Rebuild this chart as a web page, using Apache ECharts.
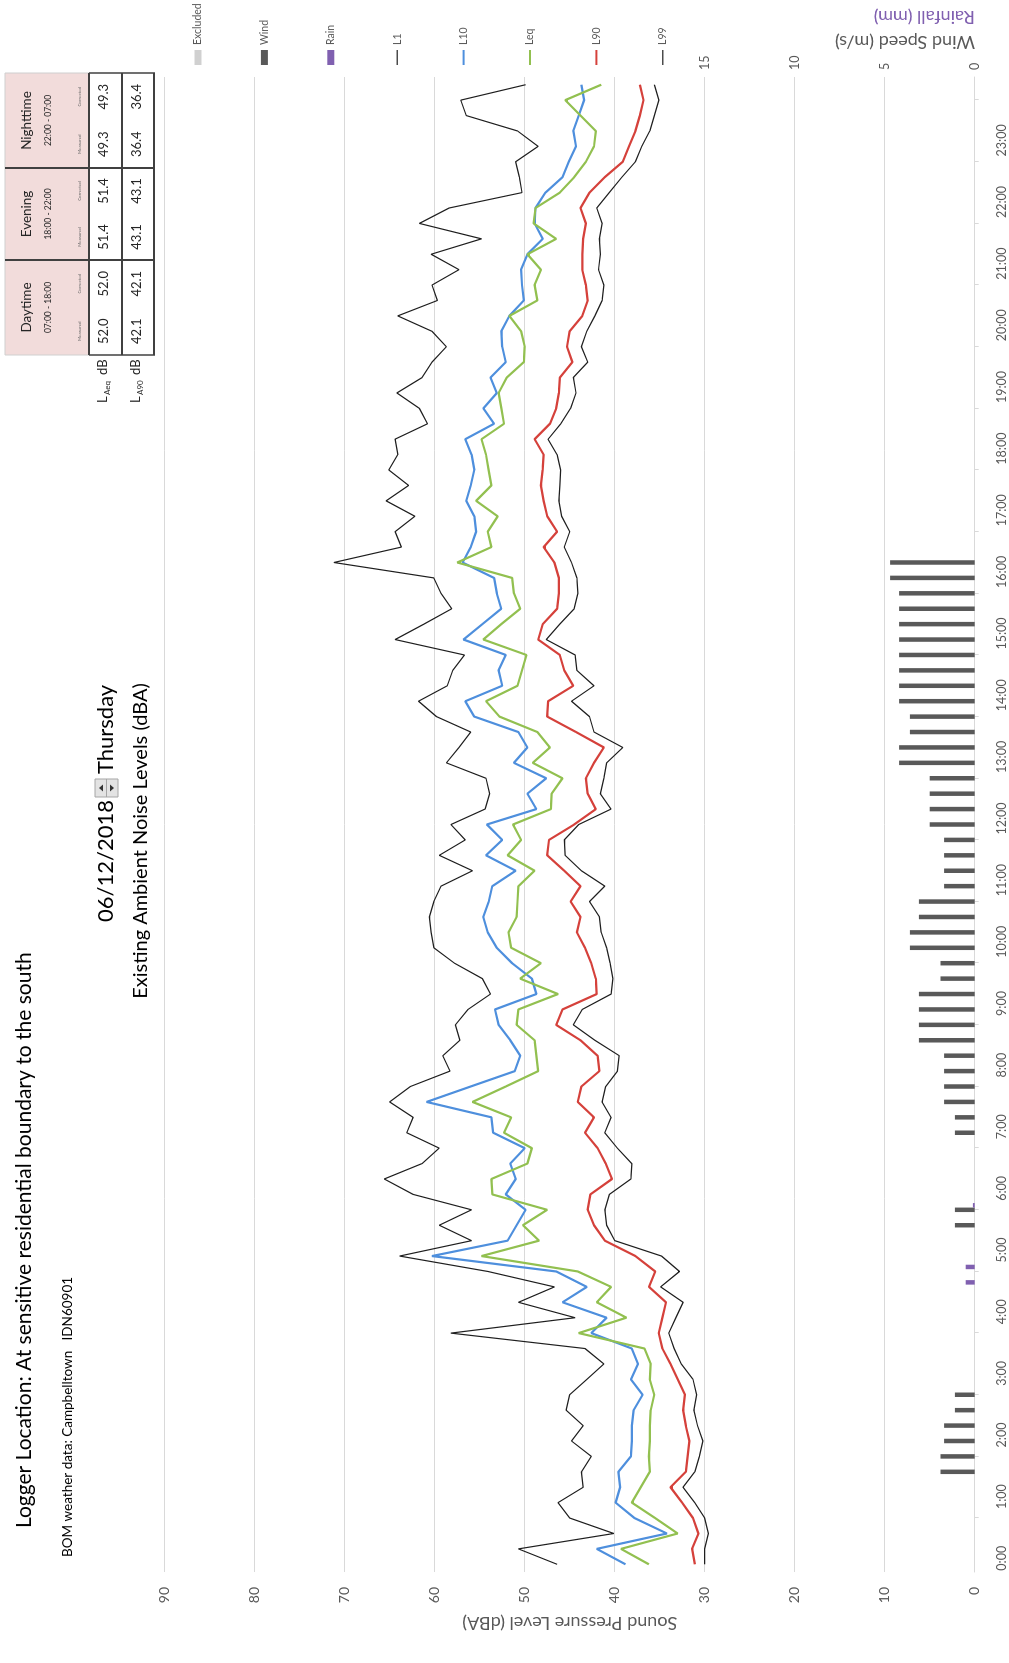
<!DOCTYPE html>
<html><head><meta charset="utf-8">
<script src="https://cdn.jsdelivr.net/npm/echarts@6/dist/echarts.min.js"></script>
<style>
html,body{margin:0;padding:0;overflow:hidden;background:#fff;width:1009px;height:1663px;}
#chart{position:absolute;left:0;top:0;width:1663px;height:1009px;transform-origin:0 0;transform:translateY(1663px) rotate(-90deg);}
</style></head><body><div id="chart"></div>
<script>
// 15-minute categories 0:00 ... 24:00
const times = [];
for (let i = 0; i < 97; i++) { const m = i * 15; times.push((Math.floor(m / 60) % 24) + ':' + String(m % 60).padStart(2, '0')); }

const L1 = [46.4,50.7,40.1,45.0,46.3,43.5,43.7,42.6,44.8,43.5,
 45.4,45.0,43.1,41.2,43.3,58.2,44.4,50.7,46.7,54.1,
 63.9,55.9,59.5,55.9,62.4,65.6,61.4,59.5,63.1,62.4,
 65.0,62.7,58.3,59.1,57.2,57.7,56.3,53.8,54.7,57.8,
 60.1,60.4,60.6,60.1,59.3,55.8,59.5,56.6,58.2,54.4,
 53.9,54.3,58.7,57.3,56.0,59.8,61.8,58.6,58.0,56.7,
 64.4,61.2,58.1,59.3,60.1,71.2,63.7,64.4,62.2,65.4,
 62.9,65.1,64.1,64.4,60.8,61.7,64.2,61.4,60.3,58.7,
 60.3,64.1,59.7,60.3,57.3,60.4,54.8,61.7,58.4,50.3,
 50.6,51.0,48.5,50.8,56.5,57.1,49.9];
const L10 = [38.8,42.0,34.2,37.8,39.9,39.4,39.6,38.2,38.1,38.1,
 37.9,36.9,38.2,37.4,38.1,42.6,40.9,45.8,43.1,46.5,
 60.3,51.9,50.9,49.9,52.1,51.0,51.6,50.0,53.5,53.7,
 60.9,56.0,51.1,50.5,51.6,52.9,53.3,48.7,49.2,51.4,
 53.1,54.1,54.6,54.0,53.6,51.0,54.3,52.5,54.2,48.7,
 49.7,47.6,51.2,49.7,50.7,55.6,56.6,52.5,52.9,52.1,
 56.8,54.7,52.6,53.1,53.4,56.9,56.0,55.4,55.6,56.5,
 56.0,55.6,55.9,56.6,53.4,54.6,53.1,53.8,52.1,52.5,
 52.6,51.7,50.1,50.3,50.4,49.7,48.0,48.9,48.8,47.7,
 45.8,45.1,44.3,44.6,44.0,43.4,43.7];
const Leq = [36.2,39.3,33.0,35.5,38.1,37.1,36.1,36.2,36.1,36.1,
 36.0,35.6,36.1,36.0,36.7,44.0,38.7,42.0,40.4,44.1,
 54.8,48.4,50.2,47.5,53.6,53.7,49.7,49.2,52.3,51.5,
 55.8,52.1,48.5,48.7,48.9,50.9,50.7,46.3,50.5,48.2,
 51.5,51.8,50.9,50.8,50.7,48.9,51.9,50.4,51.3,47.1,
 47.0,45.8,49.1,47.2,48.6,52.8,54.3,50.8,50.3,49.8,
 54.6,52.6,50.5,51.2,51.4,57.5,53.7,54.1,53.0,55.4,
 53.7,54.0,54.3,54.8,52.3,52.6,52.9,52.0,50.1,50.0,
 50.4,51.7,48.6,48.9,48.2,49.7,46.5,49.0,48.8,46.1,
 44.5,43.2,42.3,42.1,43.8,45.5,41.5];
const L90 = [31.1,31.4,30.7,31.3,32.5,33.8,32.1,31.9,31.7,32.1,
 32.4,32.2,33.0,33.8,34.7,35.1,34.7,34.3,36.2,35.5,
 37.7,41.1,42.3,43.0,42.7,40.3,41.0,41.9,43.3,42.3,
 44.1,43.7,41.7,41.9,43.8,46.5,45.8,42.0,42.1,42.6,
 43.3,44.2,43.8,44.9,43.8,45.6,47.5,47.3,44.5,42.1,
 43.0,43.2,42.3,41.2,44.3,47.5,47.4,44.6,45.6,46.1,
 48.5,48.0,46.4,46.2,46.2,46.7,47.9,46.4,47.5,47.9,
 48.2,48.0,47.9,48.9,47.2,46.5,46.2,46.1,44.7,45.3,
 45.0,43.6,43.0,43.2,43.6,43.6,43.5,43.2,43.8,42.8,
 41.1,39.1,38.4,37.7,37.2,36.8,37.2];
const L99 = [30.0,30.0,29.6,30.0,31.1,32.4,31.1,30.6,30.2,30.8,
 31.2,30.9,31.3,32.6,33.4,34.0,33.2,32.4,34.9,32.8,
 34.8,40.0,40.9,41.1,40.6,38.2,38.1,39.7,41.1,40.4,
 41.4,41.0,39.7,39.5,42.2,44.6,43.6,40.4,40.2,40.5,
 40.9,41.5,41.7,42.8,41.1,43.7,45.5,45.6,44.0,40.4,
 41.6,41.2,40.9,39.1,42.3,42.8,44.8,42.3,44.2,44.4,
 47.6,46.1,44.5,44.1,44.2,44.8,45.6,45.0,45.9,46.2,
 46.1,46.0,46.4,47.4,46.0,44.9,44.3,44.6,43.0,43.7,
 43.1,42.2,41.4,41.2,41.8,41.6,41.7,41.4,42.0,40.6,
 39.2,37.7,37.0,36.1,35.6,35.1,35.6];
const _ = null;
const wind = [_,_,_,_,_,_,1.9,1.9,1.7,1.7,
 1.1,1.1,_,_,_,_,_,_,_,_,
 _,_,1.1,1.1,_,_,_,_,1.1,1.1,
 1.7,1.7,1.7,1.7,3.1,3.1,3.1,3.1,1.9,1.9,
 3.6,3.6,3.1,3.1,1.7,1.7,1.7,1.7,2.5,2.5,
 2.5,2.5,4.2,4.2,3.6,3.6,4.2,4.2,4.2,4.2,
 4.2,4.2,4.2,4.2,4.7,4.7,_,_,_,_,
 _,_,_,_,_,_,_,_,_,_,
 _,_,_,_,_,_,_,_,_,_,
 _,_,_,_,_,_,_];
const rain = [_,_,_,_,_,_,_,_,_,_,
 _,_,_,_,_,_,_,_,0.5,0.5,
 _,_,_,0.1,_,_,_,_,_,_,
 _,_,_,_,_,_,_,_,_,_,
 _,_,_,_,_,_,_,_,_,_,
 _,_,_,_,_,_,_,_,_,_,
 _,_,_,_,_,_,_,_,_,_,
 _,_,_,_,_,_,_,_,_,_,
 _,_,_,_,_,_,_,_,_,_,
 _,_,_,_,_,_,_];
const excluded = times.map(() => null);

const periods = ['Daytime', 'Evening', 'Nighttime'];
const periodTimes = ['07:00 - 18:00', '18:00 - 22:00', '22:00 - 07:00'];
const laeqMeasured = [52.0, 51.4, 49.3];
const laeqCorrected = [52.0, 51.4, 49.3];
const la90Measured = [42.1, 43.1, 36.4];
const la90Corrected = [42.1, 43.1, 36.4];

const FONT = 'Lato, "Noto Sans", sans-serif';
const GRAY = '#595959';

// ---- graphic elements (layout in the unrotated chart frame) ----
const g = [];
function txt(x, y, text, size, opts) {
  opts = opts || {};
  g.push({ type: 'text', x: x, y: y, rotation: opts.rot || 0, z: 100,
    style: { text: text, fontSize: size, fontFamily: FONT, fill: opts.fill || '#000',
      fontWeight: opts.weight || 'normal',
      textAlign: opts.align || 'left', textVerticalAlign: opts.valign || 'middle' } });
}
function line(x1, y1, x2, y2, color, w) {
  g.push({ type: 'line', z: 100, shape: { x1: x1, y1: y1, x2: x2, y2: y2 }, style: { stroke: color, lineWidth: w } });
}
txt(135, 24, 'Logger Location: At sensitive residential boundary to the south', 21);
txt(106, 68, 'BOM weather data: Campbelltown   IDN60901', 13.5);
txt(741, 106, '06/12/2018', 22);
g.push({ type: 'rect', z: 100, shape: { x: 866, y: 95, width: 18, height: 23 }, style: { fill: '#e3e3e3', stroke: '#a6a6a6', lineWidth: 1 } });
line(866, 106.5, 884, 106.5, '#a6a6a6', 1);
g.push({ type: 'polygon', z: 101, shape: { points: [[871.5, 103], [878.5, 103], [875, 99]] }, style: { fill: '#333' } });
g.push({ type: 'polygon', z: 101, shape: { points: [[871.5, 110], [878.5, 110], [875, 114]] }, style: { fill: '#333' } });
txt(889, 106, 'Thursday', 22);
txt(822, 141, 'Existing Ambient Noise Levels (dBA)', 20, { align: 'center' });

// summary table
const tx0 = 1308, tw = [95, 92, 95];
let gx = tx0;
g.push({ type: 'rect', z: 99, shape: { x: tx0, y: 5, width: 282, height: 84 }, style: { fill: '#f2dcdb', stroke: '#cfcfcf', lineWidth: 1 } });
for (let k = 0; k < 3; k++) {
  const w = tw[k], cx = gx + w / 2;
  txt(cx, 27, periods[k], 13.5, { align: 'center', fill: '#262626' });
  txt(cx, 48, periodTimes[k], 8.5, { align: 'center', fill: '#262626' });
  txt(gx + w * 0.25, 80, 'Measured', 4.5, { align: 'center', fill: '#666' });
  txt(gx + w * 0.75, 80, 'Corrected', 4.5, { align: 'center', fill: '#666' });
  txt(gx + w * 0.25, 104, laeqMeasured[k].toFixed(1), 13, { align: 'center', fill: '#262626' });
  txt(gx + w * 0.75, 104, laeqCorrected[k].toFixed(1), 13, { align: 'center', fill: '#262626' });
  txt(gx + w * 0.25, 137, la90Measured[k].toFixed(1), 13, { align: 'center', fill: '#262626' });
  txt(gx + w * 0.75, 137, la90Corrected[k].toFixed(1), 13, { align: 'center', fill: '#262626' });
  gx += w;
}
line(1403, 5, 1403, 155, '#404040', 2);
line(1495, 5, 1495, 155, '#404040', 2);
line(tx0, 89, 1590, 89, '#404040', 2);
line(tx0, 122, 1590, 122, '#404040', 2);
line(tx0, 154, 1590, 154, '#404040', 2);
line(tx0, 89, tx0, 155, '#404040', 1.5);
line(1590, 89, 1590, 155, '#404040', 1.5);
// row labels L_Aeq dB / L_A90 dB
txt(1260, 103, 'L', 13, { fill: '#262626' });
txt(1268, 107, 'Aeq', 8, { fill: '#262626' });
txt(1288, 103, 'dB', 13, { fill: '#262626' });
txt(1260, 136, 'L', 13, { fill: '#262626' });
txt(1268, 140, 'A90', 8, { fill: '#262626' });
txt(1288, 136, 'dB', 13, { fill: '#262626' });

// secondary axis titles
txt(1621, 975, 'Wind Speed (m/s)', 18, { rot: Math.PI / 2, fill: GRAY });
txt(1646, 975, 'Rainfall (mm)', 18, { rot: Math.PI / 2, fill: '#8060b0' });

const THICK = 'path://M0,0H15V2H0Z';
const THIN = 'path://M0,0H15V1.2H0Z';

const chart = echarts.init(document.getElementById('chart'));
chart.setOption({
  animation: false,
  backgroundColor: '#fff',
  grid: { left: 91, right: 77, top: 164.7, bottom: 34.3 },
  legend: {
    orient: 'vertical', left: 1593, top: 186, itemGap: 52.4, itemWidth: 15, itemHeight: 7,
    align: 'left', selectedMode: false, symbolKeepAspect: true,
    textStyle: { fontFamily: FONT, fontSize: 10.5, color: GRAY, lineHeight: 14 },
    data: [
      { name: 'Excluded', icon: 'rect' }, { name: 'Wind', icon: 'rect' }, { name: 'Rain', icon: 'rect' },
      { name: 'L1', icon: THIN }, { name: 'L10', icon: THICK }, { name: 'Leq', icon: THICK },
      { name: 'L90', icon: THICK }, { name: 'L99', icon: THIN }
    ]
  },
  xAxis: {
    type: 'category', data: times, boundaryGap: true,
    axisLine: { lineStyle: { color: '#d9d9d9', width: 1 } },
    axisTick: { show: true, length: 4, alignWithLabel: true, interval: function (i) { return i % 4 === 3; }, lineStyle: { color: '#d9d9d9' } },
    axisLabel: { interval: function (i) { return i % 4 === 0 && i < 96; }, fontFamily: FONT, fontSize: 12.5, color: GRAY, margin: 21, padding: [0, 0, 0, 12] },
    splitLine: { show: false }
  },
  yAxis: [
    {
      type: 'value', min: 0, max: 90, interval: 10, position: 'left',
      name: 'Sound Pressure Level (dBA)', nameLocation: 'middle', nameRotate: 90, nameGap: 37,
      nameTextStyle: { fontFamily: FONT, fontSize: 18, color: GRAY },
      axisLine: { show: false }, axisTick: { show: false },
      axisLabel: { fontFamily: FONT, fontSize: 14, color: GRAY, margin: 15 },
      splitLine: { lineStyle: { color: '#d9d9d9', width: 1 } }
    },
    {
      type: 'value', min: 0, max: 45, interval: 5, position: 'right',
      axisLine: { show: false }, axisTick: { show: false }, splitLine: { show: false },
      axisLabel: { fontFamily: FONT, fontSize: 12.5, color: GRAY, margin: 7, formatter: function (v) { return v <= 15 ? String(v) : ''; } }
    }
  ],
  series: [
    { name: 'Excluded', type: 'bar', yAxisIndex: 1, data: excluded, barWidth: 4.5, barGap: '0%', itemStyle: { color: '#d0d0d0' } },
    { name: 'Wind', type: 'bar', yAxisIndex: 1, data: wind, barWidth: 4.5, barGap: '0%', itemStyle: { color: '#595959' } },
    { name: 'Rain', type: 'bar', yAxisIndex: 1, data: rain, barWidth: 4.5, barGap: '0%', itemStyle: { color: '#8060b0' } },
    { name: 'L1', type: 'line', data: L1, symbol: 'none', lineStyle: { color: '#1f1f1f', width: 1.2 }, itemStyle: { color: '#1f1f1f' } },
    { name: 'L10', type: 'line', data: L10, symbol: 'none', lineStyle: { color: '#4e8fdd', width: 2.2 }, itemStyle: { color: '#4e8fdd' } },
    { name: 'Leq', type: 'line', data: Leq, symbol: 'none', lineStyle: { color: '#92c050', width: 2.2 }, itemStyle: { color: '#92c050' } },
    { name: 'L90', type: 'line', data: L90, symbol: 'none', lineStyle: { color: '#d5413b', width: 2.2 }, itemStyle: { color: '#d5413b' } },
    { name: 'L99', type: 'line', data: L99, symbol: 'none', lineStyle: { color: '#1f1f1f', width: 1.2 }, itemStyle: { color: '#1f1f1f' } }
  ],
  graphic: g
});
</script></body></html>
